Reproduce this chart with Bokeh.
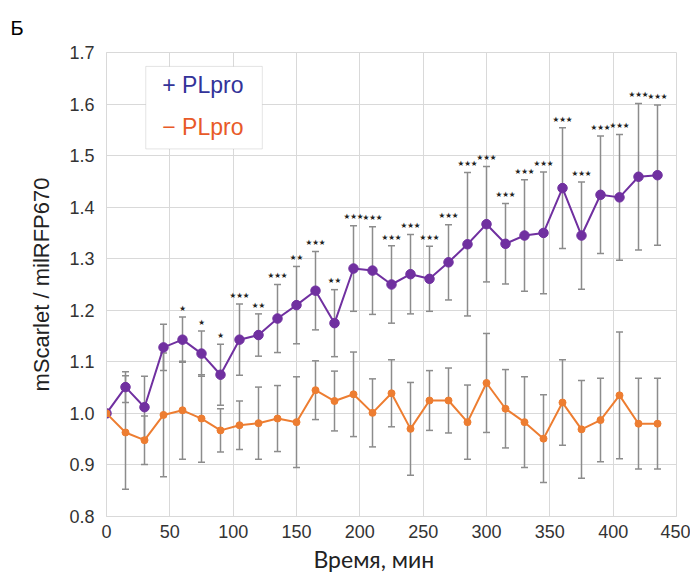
from bokeh.plotting import figure
from bokeh.models import Range1d, FixedTicker, NumeralTickFormatter, Whisker, TeeHead, ColumnDataSource, Label, BoxAnnotation, Title
from bokeh.core.properties import value
from bokeh.embed import file_html
from bokeh.resources import INLINE

# ---- data ----
time_min = [0, 15, 30, 45, 60, 75, 90, 105, 120, 135, 150, 165, 180, 195, 210,
            225, 240, 255, 270, 285, 300, 315, 330, 345, 360, 375, 390, 405, 420, 435]

plus_mean = [1.000, 1.051, 1.012, 1.128, 1.143, 1.116, 1.075, 1.143, 1.152, 1.184,
             1.210, 1.238, 1.175, 1.281, 1.277, 1.250, 1.270, 1.261, 1.293, 1.328,
             1.367, 1.329, 1.345, 1.350, 1.437, 1.345, 1.424, 1.419, 1.459, 1.462]
plus_sd = [0.000, 0.030, 0.060, 0.045, 0.044, 0.044, 0.059, 0.069, 0.041, 0.066,
           0.075, 0.076, 0.065, 0.083, 0.085, 0.075, 0.077, 0.063, 0.073, 0.139,
           0.112, 0.078, 0.108, 0.118, 0.117, 0.104, 0.114, 0.122, 0.142, 0.136]

minus_mean = [1.000, 0.963, 0.948, 0.997, 1.006, 0.990, 0.967, 0.977, 0.981, 0.990,
              0.983, 1.045, 1.024, 1.037, 1.001, 1.039, 0.970, 1.025, 1.025, 0.983,
              1.059, 1.009, 0.983, 0.951, 1.021, 0.969, 0.987, 1.035, 0.980, 0.980]
minus_sd = [0.000, 0.110, 0.047, 0.120, 0.095, 0.085, 0.042, 0.047, 0.070, 0.064,
            0.088, 0.057, 0.058, 0.082, 0.066, 0.065, 0.090, 0.058, 0.063, 0.072,
            0.096, 0.076, 0.088, 0.085, 0.083, 0.095, 0.081, 0.123, 0.088, 0.088]

signif = ["", "", "", "", "*", "*", "*", "***", "**", "***",
          "**", "***", "**", "***", "***", "***", "***", "***", "***", "***",
          "***", "***", "***", "***", "***", "***", "***", "***", "***", "***"]

x_ticks = [0, 50, 100, 150, 200, 250, 300, 350, 400, 450]
y_ticks = [0.8, 0.9, 1.0, 1.1, 1.2, 1.3, 1.4, 1.5, 1.6, 1.7]

PURPLE = "#7030a0"
ORANGE = "#ed7d31"
GRAY_BAR = "#8c8c8c"
GRID = "#d9d9d9"
FONT = "Liberation Sans"

p = figure(width=690, height=574, output_backend="svg", toolbar_location=None,
           x_range=Range1d(0, 450), y_range=Range1d(0.8, 1.7),
           min_border_left=106, min_border_right=14, min_border_top=52, min_border_bottom=55)
p.outline_line_color = GRID
p.background_fill_color = "white"
p.border_fill_color = "white"

# panel letter as title
p.title.text = "Б"
p.title.align = "left"
p.title.offset = -96
p.title.text_font = "Liberation Sans"
p.title.text_font_size = "20px"
p.title.text_font_style = "normal"
p.title.text_color = "black"
p.title.standoff = 27

for ax in (p.xaxis[0], p.yaxis[0]):
    ax.axis_line_color = GRID
    ax.major_tick_line_color = None
    ax.minor_tick_line_color = None
    ax.major_label_text_font = FONT
    ax.major_label_text_font_size = "18px"
    ax.major_label_text_color = "#333333"

p.xaxis.ticker = FixedTicker(ticks=x_ticks)
p.yaxis.ticker = FixedTicker(ticks=y_ticks)
p.yaxis.formatter = NumeralTickFormatter(format="0.0")
p.xaxis.major_label_standoff = 2
p.yaxis.major_label_standoff = 6

p.yaxis.axis_label = "mScarlet / milRFP670"
p.yaxis.axis_label_text_font = FONT
p.yaxis.axis_label_text_font_size = "22px"
p.yaxis.axis_label_text_font_style = "normal"
p.yaxis.axis_label_text_color = "#222222"
p.yaxis.axis_label_standoff = 12

xtitle = Title(text="Время, мин", align="left", offset=207,
               text_font="Lato", text_font_size="23px", text_font_style="normal",
               text_color="#222222", standoff=4)
p.add_layout(xtitle, "below")

p.xgrid.ticker = FixedTicker(ticks=x_ticks)
p.ygrid.ticker = FixedTicker(ticks=y_ticks)
p.xgrid.grid_line_color = GRID
p.ygrid.grid_line_color = GRID

src = ColumnDataSource(dict(
    t=time_min,
    pm=plus_mean,
    pu=[m + s for m, s in zip(plus_mean, plus_sd)],
    pl=[m - s for m, s in zip(plus_mean, plus_sd)],
    mm=minus_mean,
    mu=[m + s for m, s in zip(minus_mean, minus_sd)],
    ml=[m - s for m, s in zip(minus_mean, minus_sd)],
))

for up, lo in (("pu", "pl"), ("mu", "ml")):
    w = Whisker(source=src, base="t", upper=up, lower=lo, dimension="height",
                line_color=GRAY_BAR, line_width=1.5, level="underlay",
                upper_head=TeeHead(size=7, line_color=GRAY_BAR, line_width=1.5),
                lower_head=TeeHead(size=7, line_color=GRAY_BAR, line_width=1.5))
    p.add_layout(w)

p.line("t", "pm", source=src, line_color=PURPLE, line_width=2)
p.scatter("t", "pm", source=src, size=9.5, fill_color=PURPLE, line_color=PURPLE)
p.line("t", "mm", source=src, line_color=ORANGE, line_width=2)
p.scatter("t", "mm", source=src, size=7, fill_color=ORANGE, line_color=ORANGE)

star_src = ColumnDataSource(dict(
    t=time_min,
    y=[m + s + 0.017 for m, s in zip(plus_mean, plus_sd)],
    txt=[s.replace("*", "★") for s in signif],
))
p.text("t", "y", text="txt", source=star_src, text_align="center", text_baseline="middle",
       text_font=value("DejaVu Sans"), text_font_size="7.5px", text_color="#222222")

# legend box
p.add_layout(BoxAnnotation(left=31, right=123, top=1.673, bottom=1.513,
                           fill_color="white", fill_alpha=1.0,
                           line_color="#a6a6a6", line_width=1, level="overlay"))
p.add_layout(Label(x=44, y=1.636, text="+ PLpro", text_font=FONT, text_font_size="23px",
                   text_color="#333399", text_baseline="middle", level="overlay"))
p.add_layout(Label(x=44, y=1.555, text="\u2212 PLpro", text_font=FONT, text_font_size="23px",
                   text_color="#e85a28", text_baseline="middle", level="overlay"))

open("out.html", "w").write(file_html(p, INLINE))
